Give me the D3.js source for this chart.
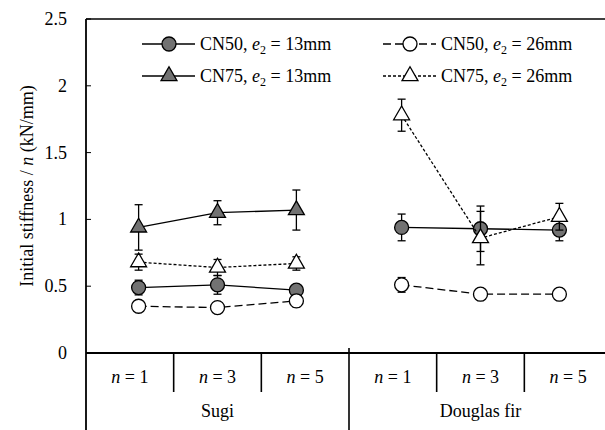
<!DOCTYPE html>
<html>
<head>
<meta charset="utf-8">
<script src="https://cdn.jsdelivr.net/npm/d3@7"></script>
</head>
<body style="margin:0; background:#fff">
<svg id="chart" width="605" height="430"></svg>
<script>
/* Initial stiffness per nail, grouped by species and number of nails */
const groups = ['Sugi', 'Douglas fir']
const nValues = [1, 3, 5]
const yTicks = [0, 0.5, 1, 1.5, 2, 2.5]

// values in order: Sugi n=1,3,5 then Douglas fir n=1,3,5 (null = not tested)
const cn50e13 = [0.49, 0.51, 0.47, 0.94, 0.93, 0.92]
const cn50e13Err = [0.055, 0.07, 0.03, 0.1, 0.17, 0.08]
const cn50e26 = [0.35, 0.34, 0.39, 0.51, 0.44, 0.44]
const cn50e26Err = [0.03, 0.02, 0.045, 0.055, 0.02, 0.02]
const cn75e13 = [0.94, 1.05, 1.07, null, null, null]
const cn75e13Err = [0.17, 0.09, 0.15, null, null, null]
const cn75e26 = [0.68, 0.64, 0.67, 1.78, 0.86, 1.02]
const cn75e26Err = [0.06, 0.06, 0.05, 0.12, 0.2, 0.1]

const seriesList = [
    { nail: 'CN50', e2: 13, values: cn50e13, errs: cn50e13Err, shape: 'circle', filled: true, dash: null },
    { nail: 'CN50', e2: 26, values: cn50e26, errs: cn50e26Err, shape: 'circle', filled: false, dash: '8,4' },
    { nail: 'CN75', e2: 13, values: cn75e13, errs: cn75e13Err, shape: 'triangle', filled: true, dash: null },
    { nail: 'CN75', e2: 26, values: cn75e26, errs: cn75e26Err, shape: 'triangle', filled: false, dash: '3,2' }
]

const margin = { top: 19, right: -7, bottom: 77, left: 86 }
const width = 605 - margin.left - margin.right
const height = 430 - margin.top - margin.bottom
const grey = '#727272'
const serif = '"Liberation Serif", "Times New Roman", serif'
const fontSize = 18

const svg = d3.select('#chart')
const g = svg.append('g')
    .attr('transform', `translate(${margin.left},${margin.top})`)
const tx = v => v + margin.left
const ty = v => v + margin.top

const xGroup = d3.scaleBand()
    .domain(groups)
    .range([0, width])

// points sit at 0.2 / 0.5 / 0.8 of each group
const xPoint = d3.scalePoint()
    .domain(nValues)
    .range([0, xGroup.bandwidth()])
    .padding(0.667)

// table cells below the axis
const xCell = d3.scaleBand()
    .domain(nValues)
    .range([0, xGroup.bandwidth()])

const y = d3.scaleLinear()
    .domain([0, 2.5])
    .range([height, 0])

const rows = []
groups.forEach((grp, gi) => {
    nValues.forEach((n, ni) => rows.push({ grp, n, i: gi * nValues.length + ni }))
})
const xPos = r => xGroup(r.grp) + xPoint(r.n)

function addText(x, y, size, anchor, rotate) {
    return svg.append('text')
        .attr('transform', `translate(${x},${y})` + (rotate ? ` rotate(${rotate})` : ''))
        .attr('text-anchor', anchor)
        .attr('font-family', serif)
        .attr('font-size', size)
        .attr('fill', '#000')
}

// frame: top line
g.append('line')
    .attr('x1', 0).attr('x2', width + 10)
    .attr('y1', 0).attr('y2', 0)
    .attr('stroke', '#000').attr('stroke-width', 1.6)

// inward y ticks
g.selectAll('.ytick')
    .data(yTicks)
    .enter()
    .append('line')
    .attr('x1', 0).attr('x2', 5)
    .attr('y1', d => y(d)).attr('y2', d => y(d))
    .attr('stroke', '#000').attr('stroke-width', 1)

yTicks.forEach(d => {
    addText(tx(-19), ty(y(d)) + 6, fontSize, 'end').text(d)
})

// left axis line runs down through the table
g.append('line')
    .attr('x1', 0).attr('x2', 0)
    .attr('y1', 0).attr('y2', 430 - margin.top)
    .attr('stroke', '#000').attr('stroke-width', 1.8)

// bottom axis line
g.append('line')
    .attr('x1', 0).attr('x2', width + 10)
    .attr('y1', height).attr('y2', height)
    .attr('stroke', '#000').attr('stroke-width', 2)

// group separators
groups.slice(1).forEach(grp => {
    g.append('line')
        .attr('x1', xGroup(grp)).attr('x2', xGroup(grp))
        .attr('y1', height - 5).attr('y2', 430 - margin.top)
        .attr('stroke', '#000').attr('stroke-width', 1.6)
})

// cell separators and n labels
groups.forEach((grp, gi) => {
    nValues.forEach((n, ni) => {
        const x0 = xGroup(grp) + xCell(n)
        if (ni > 0) {
            g.append('line')
                .attr('x1', x0).attr('x2', x0)
                .attr('y1', height).attr('y2', height + 39)
                .attr('stroke', '#000').attr('stroke-width', 1.6)
        }
        const t = addText(tx(x0 + xCell.bandwidth() / 2), ty(height + 30), fontSize, 'middle')
        t.append('tspan').attr('font-style', 'italic').text('n')
        t.append('tspan').text(' = ' + n)
    })
    addText(tx(xGroup(grp) + xGroup.bandwidth() / 2), ty(height + 64), fontSize, 'middle').text(grp)
})

// y axis title
const yTitle = addText(33, 186, 18, 'middle', -90)
yTitle.append('tspan').text('Initial stiffness / ')
yTitle.append('tspan').attr('font-style', 'italic').text('n')
yTitle.append('tspan').text(' (kN/mm)')

const triPath = d3.symbol().type(d3.symbolTriangle).size(110)

function drawMarker(sel, s) {
    if (s.shape === 'circle') {
        sel.append('circle').attr('r', 7)
    } else {
        sel.append('path').attr('d', triPath())
    }
    sel.selectAll('circle, path')
        .attr('fill', s.filled ? grey : '#fff')
        .attr('stroke', '#000')
        .attr('stroke-width', 1.3)
}

const line = d3.line()
    .defined(d => d.v != null)
    .x(d => xPos(d.r))
    .y(d => y(d.v))

seriesList.forEach(s => {
    const layer = g.append('g').attr('class', 'layer')
    groups.forEach(grp => {
        const pts = rows.filter(r => r.grp === grp).map(r => ({ r, v: s.values[r.i] }))
        layer.append('path')
            .datum(pts)
            .attr('d', line)
            .attr('fill', 'none')
            .attr('stroke', '#000')
            .attr('stroke-width', 1.3)
            .attr('stroke-dasharray', s.dash)
    })
    const pts = rows.filter(r => s.values[r.i] != null)
    const err = layer.selectAll('.err')
        .data(pts)
        .enter()
        .append('g')
        .attr('class', 'err')
        .attr('stroke', '#000')
        .attr('stroke-width', 1.3)
    err.append('line')
        .attr('x1', r => xPos(r)).attr('x2', r => xPos(r))
        .attr('y1', r => y(s.values[r.i] - s.errs[r.i]))
        .attr('y2', r => y(s.values[r.i] + s.errs[r.i]))
    ;[-1, 1].forEach(sign => {
        err.append('line')
            .attr('x1', r => xPos(r) - 4).attr('x2', r => xPos(r) + 4)
            .attr('y1', r => y(s.values[r.i] + sign * s.errs[r.i]))
            .attr('y2', r => y(s.values[r.i] + sign * s.errs[r.i]))
    })
    layer.selectAll('.mark')
        .data(pts)
        .enter()
        .append('g')
        .attr('class', 'mark')
        .attr('transform', r => `translate(${xPos(r)},${y(s.values[r.i])})`)
        .each(function () { drawMarker(d3.select(this), s) })
})

// legend, two columns by two rows
const legendCols = [56, 297]
const legendRows = [25, 57]
seriesList.forEach((s, i) => {
    const lx = legendCols[i % 2]
    const ly = legendRows[s.nail === 'CN50' ? 0 : 1]
    const item = g.append('g').attr('transform', `translate(${lx},${ly})`)
    item.append('line')
        .attr('x1', 0).attr('x2', 53)
        .attr('stroke', '#000').attr('stroke-width', 1.3)
        .attr('stroke-dasharray', s.dash)
    const m = item.append('g').attr('transform', 'translate(27,0)')
    drawMarker(m, s)
    const t = addText(tx(lx + 58), ty(ly + 6), fontSize, 'start')
    t.append('tspan').text(s.nail + ', ')
    t.append('tspan').attr('font-style', 'italic').text('e')
    t.append('tspan').attr('dy', 4).attr('font-size', 12).text('2')
    t.append('tspan').attr('dy', -4).text(' = ' + s.e2 + 'mm')
})
</script>
</body>
</html>
